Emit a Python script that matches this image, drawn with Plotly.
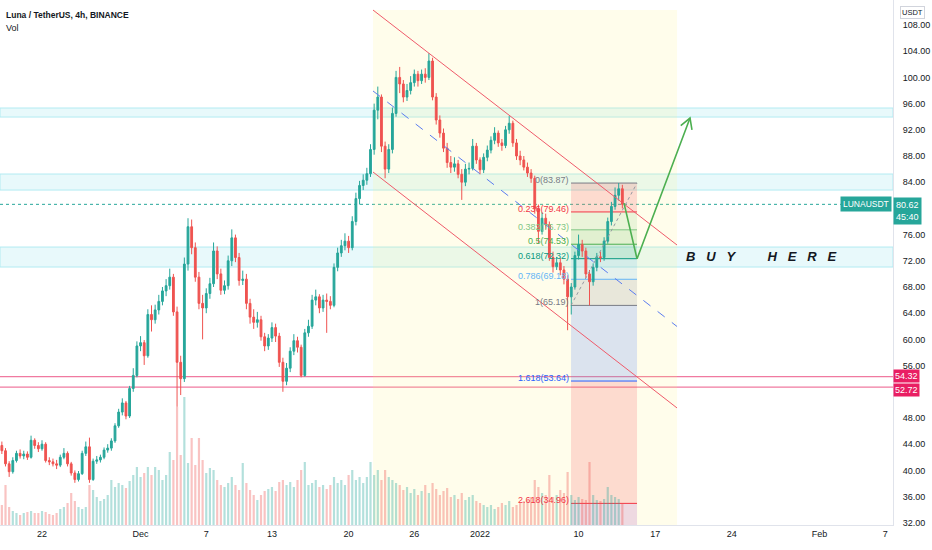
import math
import pandas as pd
import plotly.graph_objects as go

# ==========================================
# CANDLES (8h bars)
# ==========================================

inicio = "2021-11-18 08:00"
abertura_inicial = 43.8

fechamentos = [
    43.0, 41.0, 39.8, 41.5, 42.6, 42.2, 42.5, 42.0, 44.6, 43.8,
    43.3, 44.0, 41.5, 41.3, 41.0, 40.8, 42.0, 42.6, 41.0, 39.6,
    38.6, 39.5, 42.6, 43.6, 38.6, 41.4, 41.6, 42.0, 43.1, 43.4,
    44.5, 46.8, 48.9, 50.3, 48.3, 52.5, 54.5, 59.0, 59.5, 57.5,
    63.8, 63.0, 64.5, 65.8, 67.4, 68.2, 69.5, 64.2, 56.5, 54.0,
    71.5, 77.2, 74.0, 69.5, 65.5, 64.8, 67.0, 68.5, 73.5, 70.0,
    67.5, 68.2, 72.0, 75.5, 72.5, 69.0, 69.2, 65.5, 63.4, 62.6,
    63.0, 60.4, 59.0, 60.2, 61.8, 60.5, 56.5, 53.6, 55.6, 58.2,
    59.8, 58.8, 54.5, 61.0, 62.0, 66.0, 66.5, 64.8, 66.0, 65.8,
    65.2, 71.0, 73.2, 74.3, 75.0, 74.0, 78.0, 81.5, 83.5, 84.3,
    85.3, 89.0, 95.0, 97.0, 89.5, 86.0, 89.0, 94.5, 100.0, 99.0,
    97.0, 98.0, 99.2, 100.5, 99.5, 100.5, 100.0, 102.5, 97.0, 93.5,
    91.5, 89.2, 87.0, 86.3, 86.8, 85.2, 84.0, 86.0, 86.1, 89.5,
    87.4, 85.9, 87.8, 88.9, 90.4, 91.5, 90.0, 89.6, 92.0, 93.0,
    90.0, 88.0, 87.4, 86.3, 85.4, 84.6, 80.0, 76.5, 78.5, 77.5,
    72.5, 71.1, 71.7, 70.6, 69.2, 66.5, 68.0, 72.8, 74.5, 73.5,
    70.0, 68.8, 71.0, 72.6, 72.5, 75.0, 78.0, 80.3, 82.0, 83.0,
    80.62,
]

maximas = [
    44.4, 43.4, 41.4, 42.0, 43.0, 43.2, 43.0, 42.9, 45.3, 44.9,
    44.3, 44.6, 44.3, 42.0, 41.8, 41.6, 42.4, 43.4, 42.9, 41.3,
    40.0, 39.9, 43.0, 44.4, 45.0, 41.8, 42.2, 42.4, 43.5, 44.0,
    44.9, 47.2, 49.4, 51.0, 50.6, 52.9, 55.6, 59.7, 60.5, 59.9,
    64.6, 65.2, 65.3, 66.8, 68.0, 69.2, 70.8, 70.0, 65.0, 57.5,
    72.5, 78.5, 78.3, 74.8, 70.3, 66.8, 67.8, 69.4, 74.8, 74.2,
    70.8, 69.0, 72.8, 76.8, 76.0, 73.2, 70.5, 70.0, 66.2, 64.6,
    64.2, 63.6, 61.0, 60.8, 62.6, 62.4, 61.0, 57.2, 56.4, 58.8,
    60.8, 60.4, 59.2, 61.6, 63.0, 66.8, 67.6, 66.9, 66.8, 67.0,
    66.6, 71.6, 74.0, 75.2, 76.2, 75.8, 78.8, 82.4, 84.2, 85.2,
    86.2, 89.8, 96.0, 98.6, 97.4, 90.2, 89.8, 95.4, 101.0, 101.6,
    99.6, 99.0, 100.2, 101.2, 101.0, 101.2, 101.4, 103.7, 103.0, 97.6,
    94.2, 92.2, 90.0, 88.0, 87.8, 87.4, 86.0, 86.8, 87.0, 90.6,
    90.0, 87.8, 88.4, 89.6, 91.0, 92.4, 91.9, 90.6, 92.6, 94.1,
    93.4, 90.6, 88.8, 88.0, 87.0, 86.0, 85.0, 80.6, 79.4, 79.2,
    78.0, 73.4, 72.6, 72.4, 71.2, 69.8, 68.6, 73.4, 76.0, 75.2,
    74.0, 70.6, 71.6, 73.2, 73.4, 75.6, 78.6, 81.0, 83.2, 83.87,
    83.6,
]

minimas = [
    42.5, 40.6, 39.0, 39.5, 41.2, 41.8, 41.7, 41.6, 41.8, 43.3,
    42.8, 43.0, 41.2, 40.8, 40.6, 40.2, 40.5, 41.7, 40.6, 39.2,
    38.1, 38.3, 39.3, 42.2, 38.1, 38.4, 41.0, 41.2, 41.7, 42.7,
    43.0, 44.2, 46.5, 48.4, 47.8, 48.0, 52.0, 54.2, 58.2, 56.1,
    57.2, 61.2, 62.4, 63.8, 65.2, 66.6, 67.6, 63.6, 49.7, 51.5,
    53.5, 70.5, 73.0, 68.8, 64.6, 60.0, 64.0, 66.2, 68.0, 69.2,
    66.8, 66.9, 67.6, 71.2, 71.8, 68.2, 68.3, 64.6, 62.4, 61.6,
    61.8, 59.8, 58.2, 58.4, 59.6, 59.6, 55.8, 52.0, 53.0, 55.0,
    57.6, 58.0, 54.2, 54.3, 60.4, 61.6, 65.2, 64.0, 64.2, 61.0,
    64.6, 64.9, 70.4, 72.6, 73.6, 73.2, 73.6, 77.4, 80.6, 82.8,
    83.6, 84.8, 88.2, 93.6, 88.6, 84.6, 85.4, 88.4, 94.0, 97.6,
    96.2, 96.4, 97.4, 98.6, 98.6, 99.0, 99.2, 99.6, 96.5, 92.8,
    90.8, 88.6, 86.2, 85.4, 85.6, 84.6, 81.3, 83.4, 85.2, 85.8,
    86.8, 85.2, 85.4, 87.2, 88.4, 89.8, 89.4, 88.8, 89.2, 91.4,
    89.4, 87.4, 86.6, 85.8, 84.8, 83.9, 79.2, 74.7, 76.0, 76.8,
    72.0, 70.2, 70.6, 69.8, 68.4, 61.4, 63.8, 67.6, 72.2, 72.6,
    69.4, 65.19, 68.2, 70.4, 71.8, 72.0, 74.6, 77.4, 79.8, 81.2,
    80.0,
]

volumes = [
    20, 40, 18, 14, 12, 10, 12, 13, 14, 12,
    12, 14, 13, 11, 10, 12, 16, 18, 22, 32,
    24, 18, 16, 18, 40, 35, 28, 24, 26, 30,
    45, 38, 42, 40, 37, 44, 50, 58, 48, 52,
    58, 50, 58, 55, 45, 50, 73, 65, 118, 70,
    128, 62, 87, 60, 87, 65, 52, 57, 55, 45,
    40, 38, 42, 48, 40, 35, 62, 42, 35, 30,
    25, 30, 34, 36, 38, 34, 43, 45, 40, 43,
    38, 45, 55, 63, 40, 42, 45, 38, 40, 36,
    40, 48, 42, 45, 40, 50, 55, 45, 48, 42,
    48, 63, 50, 55, 45, 55, 48, 45, 42, 40,
    35, 38, 32, 36, 30, 34, 40, 32, 42, 36,
    30, 34, 37, 28, 30, 26, 32, 25, 28, 30,
    24, 22, 20, 18, 20, 16, 18, 22, 20, 24,
    18, 20, 22, 24, 25, 28, 45, 38, 32, 30,
    50, 28, 30, 35, 32, 53, 30, 25, 28, 26,
    25, 63, 30, 25, 24, 26, 38, 30, 28, 26,
    22,
]

ultimo_preco = 80.62

# ==========================================
# AXES
# ==========================================

datas_ticks = ["2021-11-22", "2021-12-01", "2021-12-07", "2021-12-13", "2021-12-20",
               "2021-12-26", "2022-01-01", "2022-01-10", "2022-01-17", "2022-01-24",
               "2022-02-01", "2022-02-07"]
textos_ticks = ["22", "Dec", "7", "13", "20", "26", "2022", "10", "17", "24", "Feb", "7"]
# 80 and 52 are hidden behind the price labels
precos_ticks = [108, 104, 100, 96, 92, 88, 84, 76, 72, 68, 64, 60, 56, 48, 44, 40, 36, 32]

x_ini, x_fim = "2021-11-18 03:56", "2022-02-07 17:12"
y_ini, y_fim = 31.66, 111.82
px_dia, px_unid = 10.95, 6.55

# ==========================================
# DRAWINGS
# ==========================================

faixas = [(93.95, 95.33), (82.8, 85.25), (71.05, 74.1)]   # cyan zones
linhas_rosa = [54.32, 52.72]

canal_datas = ["2021-12-22 05:30", "2022-01-18 23:50"]
canal_sup = [110.29, 74.41]
canal_inf = [85.56, 49.53]
canal_meio = [97.93, 61.97]

fib_datas = ["2022-01-09 07:30", "2022-01-15 08:10"]
fib_niveis = ["0", "0.236", "0.382", "0.5", "0.618", "0.786", "1", "1.618", "2.618"]
fib_precos = [83.87, 79.46, 76.73, 74.53, 72.32, 69.18, 65.19, 53.64, 34.96]
fib_cores = ["#787b86", "#f23645", "#81c784", "#4caf50", "#089981", "#64b5f6",
             "#787b86", "#2962ff", "#f23645"]
fib_cor_extra = "#9c27b0"   # 3.618 band, below the chart

seta_datas = ["2022-01-14 03:36", "2022-01-15 08:10", "2022-01-20 04:19"]
seta_precos = [80.8, 72.3, 93.8]

texto_compra = "B U Y   H E R E"
compra_data, compra_preco = "2022-01-26 17:00", 72.6

VERDE, VERMELHO = "#26a69a", "#ef5350"
FONTE = "Liberation Sans, Arial, sans-serif"
TAM = 8.5


def rgba(hexcor, a):
    h = hexcor.lstrip("#")
    return f"rgba({int(h[0:2], 16)},{int(h[2:4], 16)},{int(h[4:6], 16)},{a})"


datas = pd.date_range(inicio, periods=len(fechamentos), freq="8h")
aberturas = [abertura_inicial] + fechamentos[:-1]
cores_vol = [rgba(VERDE, 0.35) if c >= o else rgba(VERMELHO, 0.35)
             for o, c in zip(aberturas, fechamentos)]

fig = go.Figure()

# volume first so it sits under the candles
fig.add_trace(go.Bar(
    x=datas, y=volumes, marker=dict(color=cores_vol, line=dict(width=0)),
    width=8 * 3600 * 1000 * 0.6, yaxis="y2", hoverinfo="skip",
))

fig.add_trace(go.Candlestick(
    x=datas, open=aberturas, high=maximas, low=minimas, close=fechamentos,
    increasing=dict(line=dict(color=VERDE, width=1), fillcolor=VERDE),
    decreasing=dict(line=dict(color=VERMELHO, width=1), fillcolor=VERMELHO),
    whiskerwidth=0,
))

# channel lines
for ys, cor, traco in [(canal_sup, "#ef5a6a", "solid"), (canal_inf, "#ef5a6a", "solid"),
                       (canal_meio, "#5b7cf0", "dash")]:
    fig.add_trace(go.Scatter(x=canal_datas, y=ys, mode="lines",
                             line=dict(color=cor, width=1, dash=traco), hoverinfo="skip"))

# fib trend line
fig.add_trace(go.Scatter(x=fib_datas, y=[fib_precos[6], fib_precos[0]], mode="lines",
                         line=dict(color="#9598a1", width=1, dash="dot"), hoverinfo="skip"))

# green arrow + open arrowhead
fig.add_trace(go.Scatter(x=seta_datas, y=seta_precos, mode="lines",
                         line=dict(color="#4caf50", width=1.6), hoverinfo="skip"))
t1, t2 = pd.Timestamp(seta_datas[-2]), pd.Timestamp(seta_datas[-1])
dx = (t2 - t1).total_seconds() / 86400 * px_dia
dy = (seta_precos[-1] - seta_precos[-2]) * px_unid
norma = (dx ** 2 + dy ** 2) ** 0.5
ux, uy = -dx / norma, -dy / norma
braco = []
for ang in (math.radians(30), math.radians(-30)):
    bx = ux * math.cos(ang) - uy * math.sin(ang)
    by = ux * math.sin(ang) + uy * math.cos(ang)
    braco.append((t2 + pd.Timedelta(days=bx * 12 / px_dia), seta_precos[-1] + by * 12 / px_unid))
fig.add_trace(go.Scatter(x=[braco[0][0], t2, braco[1][0]],
                         y=[braco[0][1], seta_precos[-1], braco[1][1]],
                         mode="lines", line=dict(color="#4caf50", width=1.6), hoverinfo="skip"))

shapes = []
# pale yellow zone behind the channel
shapes.append(dict(type="rect", xref="x", yref="y", x0=canal_datas[0], x1=canal_datas[1],
                   y0=y_ini, y1=canal_sup[0], fillcolor="rgba(255,241,118,0.15)",
                   line=dict(width=0), layer="below"))
for lo, hi in faixas:
    shapes.append(dict(type="rect", xref="paper", yref="y", x0=0, x1=1, y0=lo, y1=hi,
                       fillcolor="rgba(128,222,234,0.18)",
                       line=dict(color="#b2ebf2", width=1), layer="below"))
for p in linhas_rosa:
    shapes.append(dict(type="line", xref="paper", yref="y", x0=0, x1=1, y0=p, y1=p,
                       line=dict(color="#f07aa0", width=1.2), layer="below"))
shapes.append(dict(type="line", xref="paper", yref="y", x0=0, x1=1, y0=ultimo_preco,
                   y1=ultimo_preco, line=dict(color=VERDE, width=1, dash="dot"), layer="below"))

# fib bands and levels
for k in range(1, len(fib_precos)):
    shapes.append(dict(type="rect", xref="x", yref="y", x0=fib_datas[0], x1=fib_datas[1],
                       y0=fib_precos[k], y1=fib_precos[k - 1],
                       fillcolor=rgba(fib_cores[k], 0.17), line=dict(width=0), layer="below"))
shapes.append(dict(type="rect", xref="x", yref="y", x0=fib_datas[0], x1=fib_datas[1],
                   y0=y_ini, y1=fib_precos[-1], fillcolor=rgba(fib_cor_extra, 0.17),
                   line=dict(width=0), layer="below"))
for p, cor in zip(fib_precos, fib_cores):
    shapes.append(dict(type="line", xref="x", yref="y", x0=fib_datas[0], x1=fib_datas[1],
                       y0=p, y1=p, line=dict(color=cor, width=1), layer="below"))

anot = []
for nv, p, cor in zip(fib_niveis, fib_precos, fib_cores):
    anot.append(dict(x=fib_datas[0], y=p, xref="x", yref="y", text=f"{nv}({p:.2f})",
                     showarrow=False, xanchor="right", yanchor="bottom", yshift=-4,
                     font=dict(size=TAM + 0.5, color=cor, family=FONTE)))

anot.append(dict(x=0, y=1, xref="paper", yref="paper", xanchor="left", yanchor="top",
                 xshift=4, yshift=-8, showarrow=False, align="left",
                 text="<b>Luna / TetherUS, 4h, BINANCE</b>",
                 font=dict(size=TAM, color="#131722", family=FONTE)))
anot.append(dict(x=0, y=1, xref="paper", yref="paper", xanchor="left", yanchor="top",
                 xshift=4, yshift=-21, showarrow=False, text="Vol",
                 font=dict(size=TAM + 0.5, color="#131722", family=FONTE)))

letras = texto_compra.replace(" ", "\u00a0\u00a0\u00a0")
anot.append(dict(x=compra_data, y=compra_preco, xref="x", yref="y", showarrow=False,
                 text=f"<b><i>{letras}</i></b>",
                 font=dict(size=13, color="#131722", family=FONTE)))

# right axis labels
anot.append(dict(x=1, y=1, xref="paper", yref="paper", xanchor="left", yanchor="top",
                 xshift=7, yshift=-6, showarrow=False, text="USDT",
                 bordercolor="#d1d4dc", borderwidth=1, borderpad=1,
                 font=dict(size=TAM - 1, color="#131722", family=FONTE)))
anot.append(dict(x=1, y=ultimo_preco, xref="paper", yref="y", xanchor="left",
                 yanchor="top", xshift=0, yshift=7, showarrow=False,
                 text=f"{ultimo_preco:.2f}<br>45:40", bgcolor=VERDE, borderpad=2,
                 font=dict(size=TAM + 0.5, color="white", family=FONTE)))
anot.append(dict(x=1, y=ultimo_preco, xref="paper", yref="y", xanchor="right",
                 yanchor="middle", xshift=-1, showarrow=False, text="LUNAUSDT",
                 bgcolor=VERDE, borderpad=2, font=dict(size=TAM, color="white", family=FONTE)))
for p, desloc in zip(linhas_rosa, [1, -3]):
    anot.append(dict(x=1, y=p, xref="paper", yref="y", xanchor="left", yanchor="middle",
                     xshift=0, yshift=desloc, showarrow=False, text=f"{p:.2f}",
                     bgcolor="#e91e63", borderpad=1,
                     font=dict(size=TAM + 0.5, color="white", family=FONTE)))

fig.update_layout(
    width=932, height=550,
    margin=dict(l=0, r=39, t=0, b=25),
    paper_bgcolor="white", plot_bgcolor="white",
    showlegend=False,
    font=dict(family=FONTE, size=TAM + 0.5, color="#131722"),
    shapes=shapes, annotations=anot,
    xaxis=dict(type="date", range=[x_ini, x_fim], tickvals=datas_ticks, ticktext=textos_ticks,
               showgrid=False, zeroline=False, showline=True, linecolor="#e0e3eb",
               ticks="", rangeslider=dict(visible=False)),
    yaxis=dict(side="right", range=[y_ini, y_fim], tickvals=precos_ticks,
               ticktext=[f"{v:.2f}" for v in precos_ticks], showgrid=False, zeroline=False,
               showline=True, linecolor="#e0e3eb", ticks="", ticklabelstandoff=7),
    yaxis2=dict(overlaying="y", range=[0, 525], visible=False),
)

fig.write_html("out.html", config={"displayModeBar": False},
               post_script="document.body.style.margin='0';")
